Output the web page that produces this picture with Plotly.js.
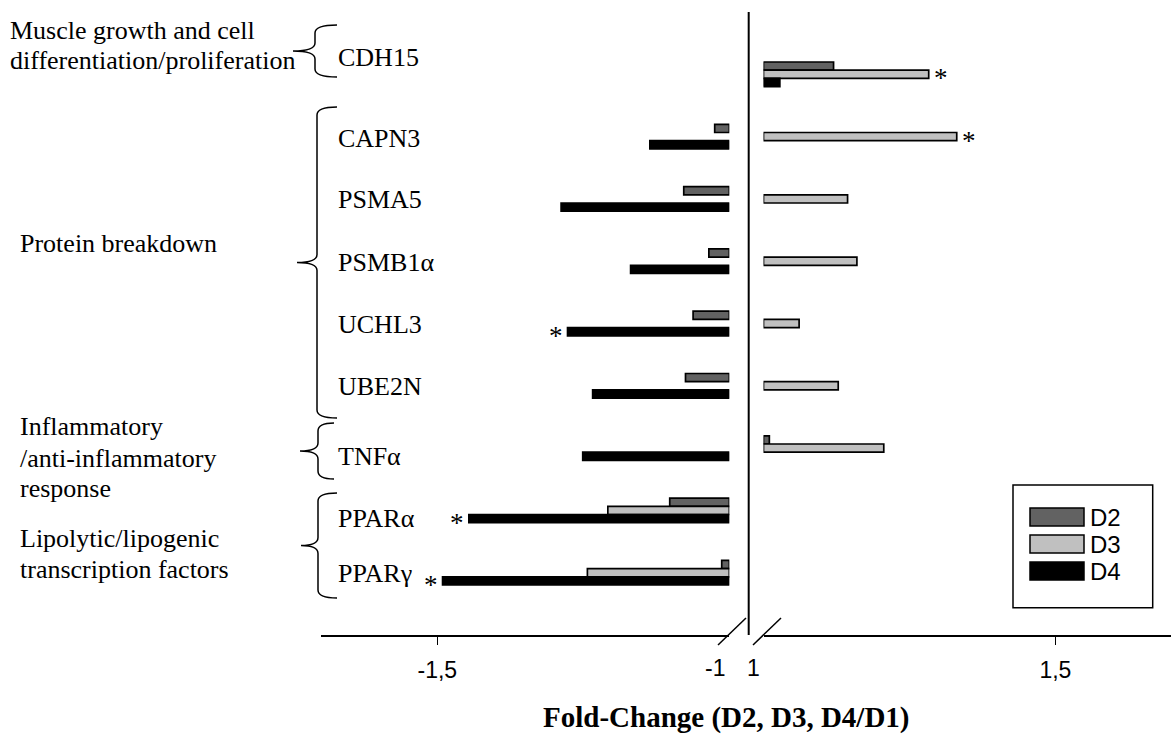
<!DOCTYPE html>
<html>
<head>
<meta charset="utf-8">
<script src="https://cdn.plot.ly/plotly-3.0.1.min.js"></script>
<style>html,body{margin:0;padding:0;background:#fff;}#chart{width:1171px;height:749px;}</style>
</head>
<body>
<div id="chart"></div>
<script>
// ---------- DATA ----------
const genes = ['CDH15','CAPN3','PSMA5','PSMB1α','UCHL3','UBE2N','TNFα','PPARα','PPARγ'];
const seriesNames = ['D2','D3','D4'];
const D2 = [1.120, -1.025, -1.078, -1.035, -1.062, -1.075, 1.010, -1.102, -1.013];
const D3 = [1.283,  1.331,  1.144,  1.160,  1.061,  1.128, 1.206, -1.208, -1.243];
const D4 = [1.028, -1.136, -1.288, -1.169, -1.277, -1.234, -1.251, -1.446, -1.491];
const sigD2 = [0,0,0,0,0,0,0,0,0];
const sigD3 = [1,1,0,0,0,0,0,0,0];
const sigD4 = [0,0,0,0,1,0,0,1,1];
const groupLabels = [
  ['Muscle growth and cell','differentiation/proliferation'],
  ['Protein breakdown'],
  ['Inflammatory','/anti-inflammatory','response'],
  ['Lipolytic/lipogenic','transcription factors']
];
const leftTickVals = [-1.5], leftTickText = ['-1,5'];
const rightTickVals = [1.5], rightTickText = ['1,5'];
const axisTitle = 'Fold-Change (D2, D3, D4/D1)';

// ---------- LAYOUT HELPERS ----------
const W = 1171, H = 749;
const px = x => x / W;
const py = y => 1 - y / H;
const colors = ['#626262', '#c0c0c0', '#000000'];
const series = [D2, D3, D4];
const sigs = [sigD2, sigD3, sigD4];
const idx = genes.map((g, i) => i);
const bargap = 0.605;
const barUnit = (1 - bargap) / 3;

const traces = [];
series.forEach((vals, s) => {
  traces.push({
    type: 'bar', orientation: 'h', name: seriesNames[s] + ' (down)',
    y: idx, x: vals.map(v => v < 0 ? v + 1 : null), base: -1,
    xaxis: 'x', yaxis: 'y',
    marker: {color: colors[s], line: {color: '#000', width: 1.7}},
    showlegend: false, hoverinfo: 'skip'
  });
});
series.forEach((vals, s) => {
  traces.push({
    type: 'bar', orientation: 'h', name: seriesNames[s] + ' (up)',
    y: idx, x: vals.map(v => v > 0 ? v - 1 : null), base: 1,
    xaxis: 'x2', yaxis: 'y',
    marker: {color: colors[s], line: {color: '#000', width: 1.7}},
    showlegend: false, hoverinfo: 'skip'
  });
});

const serif = 'Liberation Serif, Times New Roman, serif';
const sans = 'Liberation Sans, Arial, sans-serif';
const annotations = [];
const shapes = [];

// significance stars
series.forEach((vals, s) => {
  vals.forEach((v, i) => {
    if (!sigs[s][i]) return;
    annotations.push({
      xref: v < 0 ? 'x' : 'x2', yref: 'y', x: v, y: i + (s - 1) * barUnit,
      text: '*', showarrow: false, xanchor: 'center', yanchor: 'middle',
      xshift: v < 0 ? -12 : 12, yshift: -4,
      font: {family: serif, size: 27, color: '#000'}
    });
  });
});

// gene labels
const geneLabelY = [57, 138, 199, 262, 324, 386, 456, 518, 573];
genes.forEach((g, i) => {
  annotations.push({
    xref: 'paper', yref: 'paper', x: px(336), y: py(geneLabelY[i]),
    text: g, showarrow: false, xanchor: 'left', yanchor: 'middle',
    font: {family: serif, size: 26, color: '#000'}
  });
});

// group labels
const groupLineX = [8, 18, 18, 18];
const groupLineY = [[30, 61], [243], [427, 458, 488], [538, 569]];
groupLabels.forEach((lines, g) => {
  lines.forEach((t, k) => {
    annotations.push({
      xref: 'paper', yref: 'paper', x: px(groupLineX[g]), y: py(groupLineY[g][k]),
      text: t, showarrow: false, xanchor: 'left', yanchor: 'middle',
      font: {family: serif, size: 26, color: '#000'}
    });
  });
});

// braces
function brace(top, bot, xline, xpoint, xtip) {
  const mid = (top + bot) / 2, r = 8;
  const P = (x, y) => px(x).toFixed(5) + ',' + py(y).toFixed(5);
  return 'M' + P(xtip, top) + ' Q' + P(xline, top) + ' ' + P(xline, top + r) +
    ' L' + P(xline, mid - r) + ' Q' + P(xline, mid) + ' ' + P(xpoint, mid) +
    ' Q' + P(xline, mid) + ' ' + P(xline, mid + r) +
    ' L' + P(xline, bot - r) + ' Q' + P(xline, bot) + ' ' + P(xtip, bot);
}
const braceDefs = [[25, 77, 315, 293, 337], [107, 418, 317, 297, 337], [423, 479, 318, 300, 334], [493, 598, 318, 301, 337]];
braceDefs.forEach(b => shapes.push({type: 'path', xref: 'paper', yref: 'paper', path: brace(...b), line: {color: '#000', width: 1.5}}));

// central vertical line and axis break marks
shapes.push({type: 'line', xref: 'paper', yref: 'paper', x0: px(748.7), x1: px(748.7), y0: py(12), y1: py(635), line: {color: '#000', width: 2}});
shapes.push({type: 'line', xref: 'paper', yref: 'paper', x0: px(718), x1: px(746), y0: py(645), y1: py(618), line: {color: '#000', width: 1.5}});
shapes.push({type: 'line', xref: 'paper', yref: 'paper', x0: px(753), x1: px(781), y0: py(645), y1: py(618), line: {color: '#000', width: 1.5}});

// ±1 labels at the break
annotations.push({xref: 'paper', yref: 'paper', x: px(715), y: py(668), text: '-1', showarrow: false, xanchor: 'center', yanchor: 'middle', font: {family: sans, size: 23, color: '#000'}});
annotations.push({xref: 'paper', yref: 'paper', x: px(753), y: py(668), text: '1', showarrow: false, xanchor: 'center', yanchor: 'middle', font: {family: sans, size: 23, color: '#000'}});

// axis title
annotations.push({xref: 'paper', yref: 'paper', x: px(726), y: py(717), text: '<b>' + axisTitle + '</b>', showarrow: false, xanchor: 'center', yanchor: 'middle', font: {family: serif, size: 29, color: '#000'}});

// legend (drawn)
shapes.push({type: 'rect', xref: 'paper', yref: 'paper', x0: px(1013), x1: px(1152.7), y0: py(485), y1: py(607.7), line: {color: '#000', width: 1.5}, fillcolor: 'rgba(0,0,0,0)'});
const legTop = [508, 535, 562];
seriesNames.forEach((n, s) => {
  shapes.push({type: 'rect', xref: 'paper', yref: 'paper', x0: px(1030), x1: px(1084), y0: py(legTop[s]), y1: py(legTop[s] + 18), line: {color: '#000', width: 1.5}, fillcolor: colors[s]});
  annotations.push({xref: 'paper', yref: 'paper', x: px(1088), y: py(legTop[s] + 9), text: n, showarrow: false, xanchor: 'left', yanchor: 'middle', font: {family: sans, size: 24, color: '#000'}});
});

const axisCommon = {
  showgrid: false, zeroline: false, showline: true, linecolor: '#000', linewidth: 1.5,
  ticks: 'outside', ticklen: 8, tickwidth: 1.5, tickcolor: '#000', ticklabelstandoff: 6,
  tickfont: {family: sans, size: 23, color: '#000'}, anchor: 'y', fixedrange: true
};
const layout = {
  width: W, height: H,
  margin: {l: 0, r: 0, t: 0, b: 0, pad: 0},
  paper_bgcolor: '#fff', plot_bgcolor: 'rgba(0,0,0,0)',
  barmode: 'group', bargap: bargap, bargroupgap: 0,
  showlegend: false,
  xaxis: Object.assign({}, axisCommon, {domain: [px(320.5), px(729.3)], range: [-1.7, -1], tickvals: leftTickVals, ticktext: leftTickText}),
  xaxis2: Object.assign({}, axisCommon, {domain: [px(763.5), 1], range: [1, 1.698], tickvals: rightTickVals, ticktext: rightTickText}),
  yaxis: {domain: [py(635), py(12)], range: [9, -1], showgrid: false, zeroline: false, showline: false, showticklabels: false, ticks: '', fixedrange: true},
  annotations: annotations,
  shapes: shapes
};
Plotly.newPlot('chart', traces, layout, {displayModeBar: false, staticPlot: true});
</script>
</body>
</html>
